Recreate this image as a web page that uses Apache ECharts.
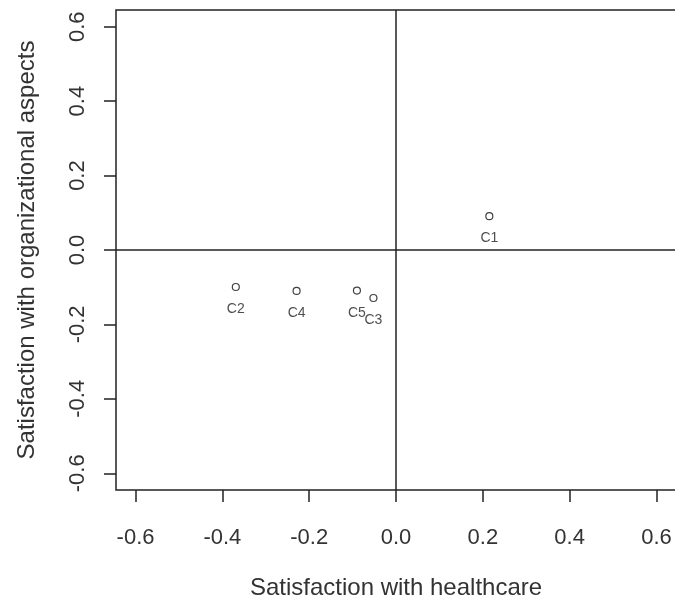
<!DOCTYPE html>
<html>
<head>
<meta charset="utf-8">
<script src="https://cdn.jsdelivr.net/npm/echarts@6/dist/echarts.min.js"></script>
<style>
  html, body { margin: 0; padding: 0; background: #fff; }
  #chart { width: 675px; height: 603px; }
</style>
</head>
<body>
<div id="chart"></div>
<script>
// Correspondence-style map of five clusters on two satisfaction dimensions
const clusterNames = ['C1', 'C2', 'C3', 'C4', 'C5'];
const healthcareScores = [0.215, -0.369, -0.052, -0.229, -0.090];
const organizationalScores = [0.091, -0.0995, -0.129, -0.110, -0.109];
const tickValues = [-0.6, -0.4, -0.2, 0.0, 0.2, 0.4, 0.6];

const axisLimit = 0.645;
const textColor = '#333';
const fontFamily = '"Liberation Sans", Arial, sans-serif';

const points = clusterNames.map((name, i) => ({
  name: name,
  value: [healthcareScores[i], organizationalScores[i]]
}));

const chart = echarts.init(document.getElementById('chart'), null, { renderer: 'canvas' });

function valueAxis(name, nameGap, labelMargin, rotate) {
  return {
    type: 'value',
    min: -axisLimit,
    max: axisLimit,
    name: name,
    nameLocation: 'middle',
    nameGap: nameGap,
    nameTextStyle: { color: textColor, fontSize: 24, fontFamily: fontFamily },
    splitLine: { show: false },
    axisLine: { show: false, onZero: false },
    axisTick: {
      show: true,
      inside: false,
      length: 12,
      customValues: tickValues,
      lineStyle: { color: '#222', width: 1.5 }
    },
    axisLabel: {
      show: true,
      customValues: tickValues,
      rotate: rotate,
      margin: labelMargin,
      color: textColor,
      fontSize: 22,
      fontFamily: fontFamily,
      formatter: v => v.toFixed(1)
    }
  };
}

chart.setOption({
  animation: false,
  backgroundColor: '#fff',
  grid: {
    left: 116,
    top: 10,
    width: 560,
    height: 480,
    containLabel: false,
    outerBoundsMode: 'none',
    show: true,
    borderColor: '#222',
    borderWidth: 1.5,
    backgroundColor: 'transparent'
  },
  xAxis: valueAxis('Satisfaction with healthcare', 86, 37, 0),
  yAxis: valueAxis('Satisfaction with organizational aspects', 77, 27, 90),
  series: [{
    type: 'scatter',
    data: points,
    symbol: 'circle',
    symbolSize: 7,
    itemStyle: { color: '#fff', borderColor: '#111', borderWidth: 1.2 },
    label: {
      show: true,
      position: 'bottom',
      distance: 11,
      formatter: p => p.name,
      color: '#222',
      fontSize: 14,
      fontFamily: fontFamily
    },
    markLine: {
      silent: true,
      symbol: ['none', 'none'],
      label: { show: false },
      lineStyle: { color: '#222', width: 1.5, type: 'solid' },
      data: [{ xAxis: 0 }, { yAxis: 0 }]
    }
  }]
});
</script>
</body>
</html>
